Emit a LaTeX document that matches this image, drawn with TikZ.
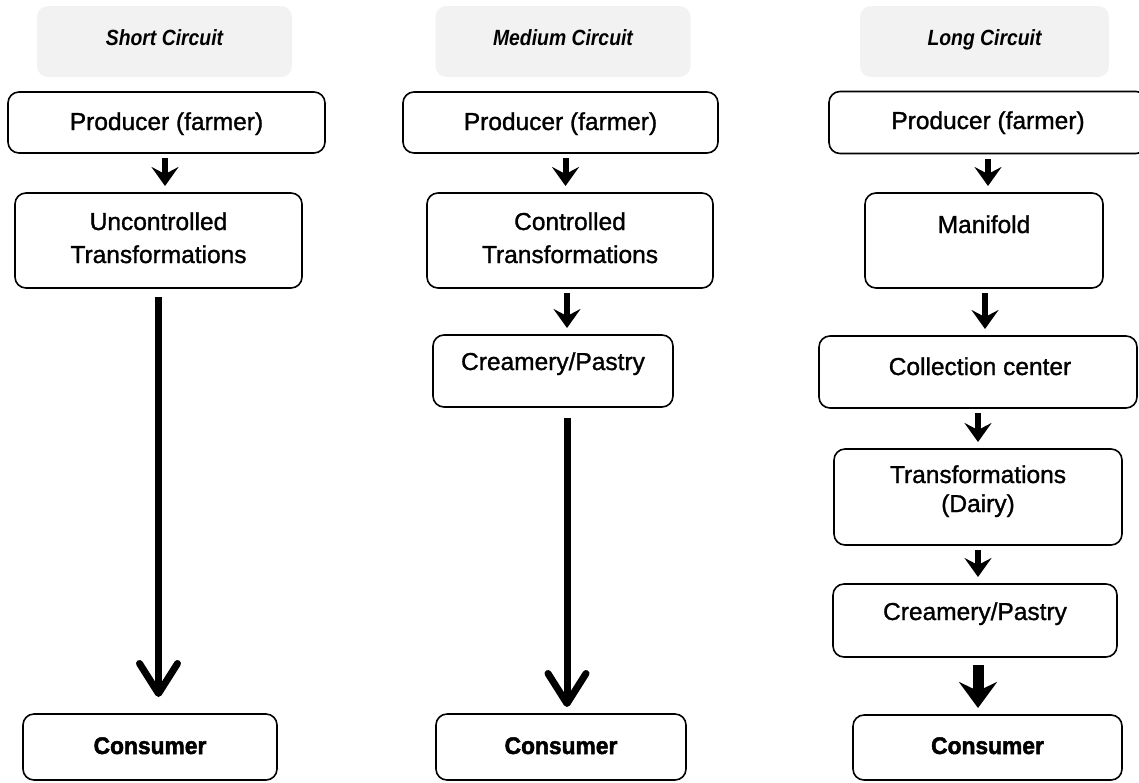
\documentclass[tikz,border=0pt]{standalone}
\usepackage{fontspec}
\setmainfont{Liberation Sans}
\newfontfamily\bodyfam{Liberation Sans}[FakeBold=1.2]
\newfontfamily\hdrfam{Liberation Sans}[FakeStretch=0.88]
\newfontfamily\consfam{Liberation Sans}[FakeBold=2, FakeStretch=0.95]
\usetikzlibrary{arrows.meta}
\definecolor{hdrgray}{HTML}{F2F2F2}
\newcommand{\bodyfnt}{\bodyfam\fontsize{24.5}{30}\selectfont}
\newcommand{\hdrfnt}{\hdrfam\fontsize{22}{26}\selectfont\bfseries\itshape}
\newcommand{\consfnt}{\consfam\fontsize{24}{28}\selectfont\bfseries}
\tikzset{
  box/.style={draw, line width=1.6pt, rounded corners=11pt, inner sep=0pt, outer sep=0pt},
  hdr/.style={fill=hdrgray, rounded corners=11pt, inner sep=0pt, outer sep=0pt},
  hdrtxt/.style={font=\hdrfnt, anchor=base, inner sep=0pt},
  lbl/.style={font=\bodyfnt, anchor=base, inner sep=0pt},
  constxt/.style={font=\consfnt, anchor=base, inner sep=0pt},
  sarrow/.style={line width=6pt, shorten <=5pt, shorten >=7pt, -{Stealth[length=19pt,width=27pt,inset=7pt]}},
  larrow/.style={line width=7pt, -{Straight Barb[length=30pt,width=38pt,line cap=round,line join=round]}},
  marrow/.style={line width=11pt, shorten <=8pt, shorten >=7pt, -{Stealth[length=26pt,width=38pt,inset=9pt]}},
}
\begin{document}
\begin{tikzpicture}[x=1pt,y=-1pt]
\useasboundingbox (0,0) rectangle (1139,782);
\clip (0,0) rectangle (1139,782);
% headers
\node[hdr, minimum width=255pt, minimum height=71pt] (h1) at (164.5,41.5) {};
\node[hdr, minimum width=255pt, minimum height=71pt] (h2) at (563,41.5) {};
\node[hdr, minimum width=249pt, minimum height=71pt] (h3) at (984.5,41.5) {};
\node[hdrtxt] (h1t) at (164.5,45) {Short Circuit};
\node[hdrtxt] (h2t) at (563,45) {Medium Circuit};
\node[hdrtxt] (h3t) at (984.5,45) {Long Circuit};
% column 1
\node[box, minimum width=317pt, minimum height=61pt] (p1) at (166.5,122.5) {};
\node[lbl] (p1t) at (166.5,130) {Producer (farmer)};
\node[box, minimum width=287pt, minimum height=95pt] (u1) at (158.5,240.5) {};
\node[lbl] (u1a) at (158.5,230) {Uncontrolled};
\node[lbl] (u1b) at (158.5,263) {Transformations};
\node[box, minimum width=254pt, minimum height=66pt] (c1) at (150,747) {};
\node[constxt] (c1t) at (150,754) {Consumer};
% column 2
\node[box, minimum width=315pt, minimum height=61pt] (p2) at (560.5,122.5) {};
\node[lbl] (p2t) at (560.5,130) {Producer (farmer)};
\node[box, minimum width=286pt, minimum height=95pt] (t2) at (570,240.5) {};
\node[lbl] (t2a) at (570,230) {Controlled};
\node[lbl] (t2b) at (570,263) {Transformations};
\node[box, minimum width=240pt, minimum height=72pt] (k2) at (553,371) {};
\node[lbl] (k2t) at (553,370) {Creamery/Pastry};
\node[box, minimum width=250pt, minimum height=66pt] (c2) at (561,747) {};
\node[constxt] (c2t) at (561,754) {Consumer};
% column 3
\node[box, minimum width=318pt, minimum height=62pt] (p3) at (988,122.5) {};
\node[lbl] (p3t) at (988,129) {Producer (farmer)};
\node[box, minimum width=238pt, minimum height=95pt] (m3) at (984,240.5) {};
\node[lbl] (m3t) at (984,233) {Manifold};
\node[box, minimum width=318pt, minimum height=72pt] (cc3) at (978,372) {};
\node[lbl] (cc3t) at (980,375) {Collection center};
\node[box, minimum width=288pt, minimum height=96pt] (t3) at (978,497) {};
\node[lbl] (t3a) at (978,483) {Transformations};
\node[lbl] (t3b) at (978,512) {(Dairy)};
\node[box, minimum width=284pt, minimum height=73pt] (k3) at (975,620.5) {};
\node[lbl] (k3t) at (975,620) {Creamery/Pastry};
\node[box, minimum width=269pt, minimum height=65pt] (c3) at (987.5,747.5) {};
\node[constxt] (c3t) at (987.5,754) {Consumer};
% arrows column 1
\draw[sarrow] ([xshift=-1.5pt]p1.south) -- ([xshift=-1.5pt]p1.south |- u1.north);
\draw[larrow, shorten <=9pt, shorten >=17pt] (u1.south) -- (u1.south |- c1.north);
% arrows column 2
\draw[sarrow] ([xshift=5pt]p2.south) -- ([xshift=5pt]p2.south |- t2.north);
\draw[sarrow] ([xshift=-3pt]t2.south) -- ([xshift=-3pt]t2.south |- k2.north);
\draw[larrow, shorten <=11pt, shorten >=7pt] ([xshift=14pt]k2.south) -- ([xshift=14pt]k2.south |- c2.north);
% arrows column 3
\draw[sarrow] (p3.south) -- (p3.south |- m3.north);
\draw[sarrow] ([xshift=1pt]m3.south) -- ([xshift=1pt]m3.south |- cc3.north);
\draw[sarrow] (cc3.south) -- (cc3.south |- t3.north);
\draw[sarrow] (t3.south) -- (t3.south |- k3.north);
\draw[marrow] ([xshift=3pt]k3.south) -- ([xshift=3pt]k3.south |- c3.north);
\end{tikzpicture}
\end{document}
